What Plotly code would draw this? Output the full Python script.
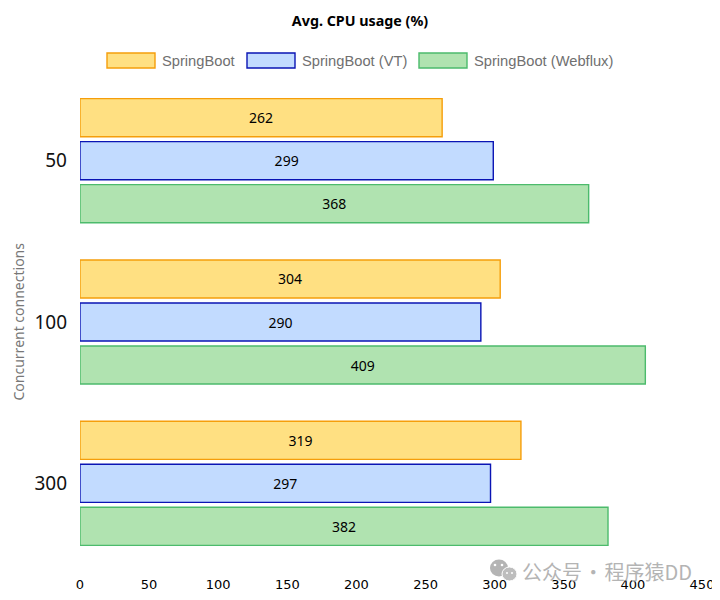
"""Avg. CPU usage grouped horizontal bars"""

import plotly.graph_objects as go

connections = ["50", "100", "300"]
springboot = [262, 304, 319]
springboot_vt = [299, 290, 297]
springboot_webflux = [368, 409, 382]

series_names = ["SpringBoot", "SpringBoot (VT)", "SpringBoot (Webflux)"]
fill_colors = ["#ffe082", "#c2dbff", "#b0e3b0"]
line_colors = ["#f59e0b", "#0a14b4", "#4cbb6c"]
x_ticks = [0, 50, 100, 150, 200, 250, 300, 350, 400, 450]

# the page body has an 8px margin, so the figure sits at (8, 8) in the window
BODY = 8
WIDTH = 712
HEIGHT = 584
PLOT_LEFT, PLOT_RIGHT, PLOT_TOP, PLOT_BOTTOM = 80, 702, 80, 564
M_L = PLOT_LEFT - BODY
M_R = WIDTH + BODY - PLOT_RIGHT
M_T = PLOT_TOP - BODY
M_B = HEIGHT + BODY - PLOT_BOTTOM

fig = go.Figure()
for name, values, fill, edge in zip(
    series_names,
    [springboot, springboot_vt, springboot_webflux],
    fill_colors,
    line_colors,
):
    fig.add_trace(go.Bar(
        name=name,
        y=connections,
        x=values,
        orientation="h",
        marker=dict(color=fill, line=dict(color=edge, width=1.4)),
        text=values,
        textposition="inside",
        insidetextanchor="middle",
        textangle=0,
        textfont=dict(family="Noto Sans", size=14, color="black"),
        cliponaxis=False,
    ))


def paper_x(px):
    return (px - PLOT_LEFT) / (PLOT_RIGHT - PLOT_LEFT)


def paper_y(px):
    return 1 - (px - PLOT_TOP) / (PLOT_BOTTOM - PLOT_TOP)


def dot(cx, cy, rx, ry, color, line=None):
    return dict(
        type="circle", xref="paper", yref="paper",
        x0=paper_x(cx - rx), x1=paper_x(cx + rx),
        y0=paper_y(cy + ry), y1=paper_y(cy - ry),
        fillcolor=color, line=line or dict(width=0), layer="above",
    )


# legend drawn by hand, plotly bar swatches can't be this wide
shapes = []
annotations = []
swatch_left = [107, 247, 419]
for left, name, fill, edge in zip(swatch_left, series_names, fill_colors, line_colors):
    shapes.append(dict(
        type="rect", xref="paper", yref="paper",
        x0=paper_x(left), x1=paper_x(left + 48),
        y0=paper_y(53), y1=paper_y(68),
        fillcolor=fill, line=dict(color=edge, width=1.4),
    ))
    annotations.append(dict(
        text=name, xref="paper", yref="paper",
        x=paper_x(left + 53), y=paper_y(60.5),
        xanchor="left", yanchor="middle", showarrow=False,
        font=dict(family="Liberation Sans", size=14.7, color="#707070"),
    ))

# y axis title, standoff does nothing once automargin is off
annotations.append(dict(
    text="Concurrent connections", xref="paper", yref="paper",
    x=paper_x(18), y=paper_y(321.5),
    xanchor="center", yanchor="middle", showarrow=False, textangle=-90,
    font=dict(family="Noto Sans", size=14, color="#777777"),
))

# watermark
annotations.append(dict(
    text="公众号\u200a·\u200a程序猿DD", xref="paper", yref="paper",
    x=paper_x(520), y=paper_y(571.5),
    xanchor="left", yanchor="middle", showarrow=False,
    font=dict(family="Noto Sans CJK SC", size=20, color="#b4b4b4"),
))
shapes.append(dot(499, 568, 9, 8.5, "#b4b4b4"))
shapes.append(dot(509.5, 574, 7.5, 7, "#bdbdbd", dict(color="white", width=1)))
for cx, cy, r in [(495, 565, 1.3), (502, 565, 1.3), (507, 573, 1), (512, 573, 1)]:
    shapes.append(dot(cx, cy, r, r, "white"))

fig.update_layout(
    width=WIDTH,
    height=HEIGHT,
    margin=dict(l=M_L, r=M_R, t=M_T, b=M_B, pad=0),
    paper_bgcolor="white",
    plot_bgcolor="white",
    barmode="group",
    bargap=0.2,
    bargroupgap=0.115,
    showlegend=False,
    title=dict(
        text="<b>Avg. CPU usage (%)</b>",
        x=(360 - BODY) / WIDTH,
        xanchor="center",
        y=1 - (21 - BODY) / HEIGHT,
        yanchor="middle",
        font=dict(family="Noto Sans", size=14.3, color="black"),
    ),
    shapes=shapes,
    annotations=annotations,
    font=dict(family="Noto Sans"),
)
fig.update_xaxes(
    range=[0, 450],
    tickvals=x_ticks,
    automargin=False,
    showgrid=False,
    zeroline=False,
    showline=False,
    ticks="",
    ticklabelstandoff=11,
    tickfont=dict(family="DejaVu Sans", size=13, color="black"),
)
fig.update_yaxes(
    autorange="reversed",
    type="category",
    automargin=False,
    showgrid=False,
    zeroline=False,
    showline=False,
    ticks="",
    ticklabelstandoff=12,
    tickfont=dict(family="Noto Sans", size=19, color="#111111"),
)

fig.write_html("out.html")
